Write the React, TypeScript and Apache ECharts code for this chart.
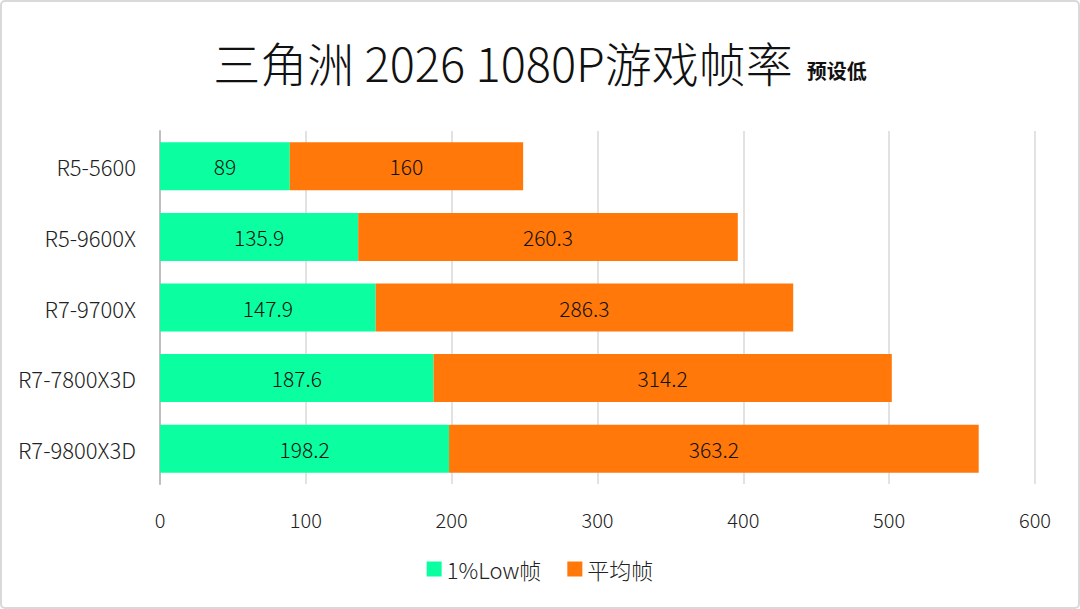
import { useEffect, useRef } from "react";
import * as echarts from "echarts";

const cpus = ["R5-5600", "R5-9600X", "R7-9700X", "R7-7800X3D", "R7-9800X3D"];
const lowFps = [89, 135.9, 147.9, 187.6, 198.2];
const avgFps = [160, 260.3, 286.3, 314.2, 363.2];
const seriesNames = ["1%Low帧", "平均帧"];

const FONT = '"Noto Sans CJK SC", "Noto Sans", sans-serif';

export default function App() {
  const chartRef = useRef<HTMLDivElement | null>(null);

  useEffect(() => {
    document.body.style.margin = "0";
    if (!chartRef.current) return;
    const chart = echarts.init(chartRef.current, null, { renderer: "svg" });

    const labelStyle = {
      show: true,
      position: "inside",
      color: "#111",
      fontSize: 21,
      fontWeight: 300,
      fontFamily: FONT,
    };

    chart.setOption({
      animation: false,
      textStyle: { fontFamily: FONT },
      title: {
        text: "{a|三角洲 2026 1080P游戏帧率} {b|预设低}",
        left: "center",
        top: 33,
        textStyle: {
          fontWeight: "normal",
          rich: {
            a: { fontSize: 47, color: "#111", fontFamily: FONT, fontWeight: 300 },
            b: {
              fontSize: 20,
              fontWeight: "bold",
              color: "#111",
              fontFamily: FONT,
              padding: [18, 0, 0, 10],
            },
          },
        },
      },
      graphic: [
        {
          type: "rect",
          shape: { x: 1, y: 1, width: 1078, height: 607, r: 4 },
          style: { fill: "none", stroke: "#d9d9d9", lineWidth: 2 },
          silent: true,
        },
      ],
      legend: {
        bottom: 24,
        left: "center",
        icon: "rect",
        itemWidth: 15,
        itemHeight: 15,
        itemGap: 26,
        textStyle: { fontSize: 22, fontWeight: 300, color: "#222", fontFamily: FONT },
        data: seriesNames,
      },
      grid: { left: 160, right: 45, top: 131, bottom: 125 },
      xAxis: {
        type: "value",
        min: 0,
        max: 600,
        interval: 100,
        axisLine: { show: false },
        axisTick: { show: false },
        axisLabel: { color: "#222", fontSize: 20, fontWeight: 300, margin: 25, fontFamily: FONT },
        splitLine: { lineStyle: { color: "#d9d9d9", width: 1.5 } },
      },
      yAxis: {
        type: "category",
        inverse: true,
        data: cpus,
        axisLine: { lineStyle: { color: "#bfbfbf", width: 2 } },
        axisTick: { show: false },
        axisLabel: { color: "#222", fontSize: 22, fontWeight: 300, margin: 24, fontFamily: FONT },
      },
      series: [
        {
          name: seriesNames[0],
          type: "bar",
          stack: "fps",
          barWidth: 48,
          itemStyle: { color: "#0bffa0" },
          label: labelStyle,
          data: lowFps,
        },
        {
          name: seriesNames[1],
          type: "bar",
          stack: "fps",
          barWidth: 48,
          itemStyle: { color: "#ff7809" },
          label: labelStyle,
          data: avgFps,
        },
      ],
    });

    return () => chart.dispose();
  }, []);

  return <div ref={chartRef} style={{ width: 1080, height: 609, background: "#fff" }} />;
}
